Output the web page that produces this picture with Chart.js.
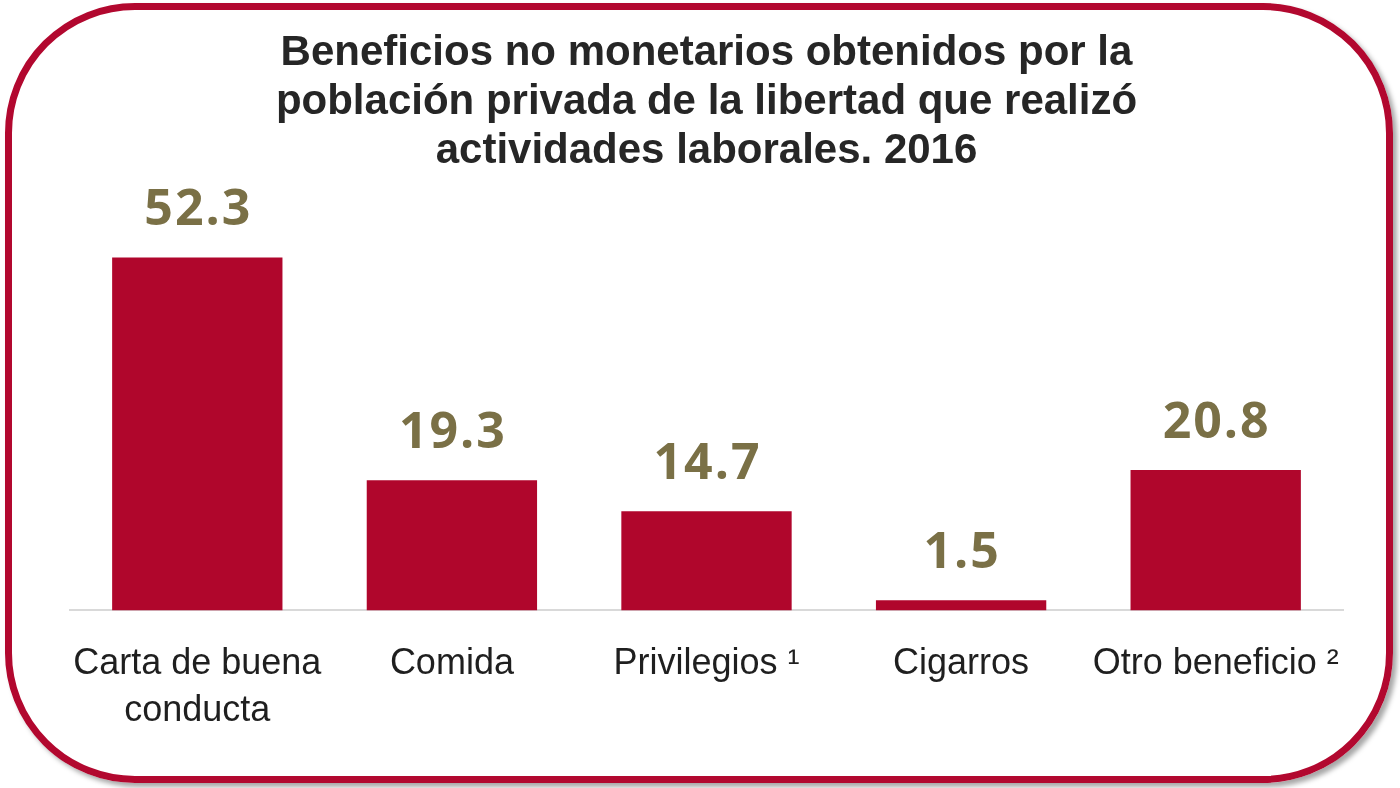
<!DOCTYPE html>
<html>
<head>
<meta charset="utf-8">
<script src="https://cdn.jsdelivr.net/npm/chart.js@4"></script>
<style>
  html, body { margin: 0; padding: 0; background: #ffffff; }
  #wrap { position: relative; width: 1400px; height: 788px; overflow: hidden; background: #ffffff; }
  #frame {
    position: absolute; left: 5px; top: 3px; width: 1388px; height: 780px;
    box-sizing: border-box; border: 7px solid #B2082F; border-radius: 130px;
    box-shadow: 4px 4px 5px rgba(0,0,0,0.35);
  }
  #c { position: absolute; left: 0; top: 0; }
</style>
</head>
<body>
<div id="wrap">
  <div id="frame"></div>
  <canvas id="c" width="1400" height="788"></canvas>
</div>
<script>
const titleLines = [
  'Beneficios no monetarios obtenidos por la',
  'población privada de la libertad que realizó',
  'actividades laborales. 2016'
];
const categories = [
  ['Carta de buena', 'conducta'],
  'Comida',
  'Privilegios ¹',
  'Cigarros',
  'Otro beneficio ²'
];
const values = [52.3, 19.3, 14.7, 1.5, 20.8];
const valueLabels = ['52.3', '19.3', '14.7', '1.5', '20.8'];

const valueLabelPlugin = {
  id: 'valueLabels',
  afterDatasetsDraw(chart) {
    const ctx = chart.ctx;
    const meta = chart.getDatasetMeta(0);
    ctx.save();
    ctx.font = 'bold 50px "Open Sans", sans-serif';
    ctx.fillStyle = '#7A7046';
    ctx.textAlign = 'center';
    ctx.textBaseline = 'alphabetic';
    if ('letterSpacing' in ctx) ctx.letterSpacing = '2px';
    meta.data.forEach((bar, i) => {
      ctx.fillText(valueLabels[i], bar.x + 1, bar.y - 32);
    });
    ctx.restore();
  }
};

new Chart(document.getElementById('c'), {
  type: 'bar',
  data: {
    labels: categories,
    datasets: [{
      data: values,
      backgroundColor: '#B0062C',
      borderWidth: 0,
      categoryPercentage: 1.0,
      barPercentage: 0.669
    }]
  },
  options: {
    responsive: false,
    devicePixelRatio: 1,
    animation: false,
    layout: { padding: { left: 70, right: 57, top: 16, bottom: 24 } },
    plugins: {
      legend: { display: false },
      tooltip: { enabled: false },
      title: {
        display: true,
        text: titleLines,
        color: '#262626',
        font: { family: '"Liberation Sans", Arial, sans-serif', size: 42, weight: 'bold', lineHeight: 1.17 },
        padding: { top: 13, bottom: 29 }
      }
    },
    scales: {
      x: {
        grid: { display: false, drawTicks: false },
        border: { display: true, color: '#D9D9D9', width: 2 },
        ticks: {
          color: '#1F1F1F',
          font: { family: '"Liberation Sans", Arial, sans-serif', size: 36, lineHeight: 1.3 },
          padding: 30,
          maxRotation: 0,
          autoSkip: false
        }
      },
      y: {
        display: false,
        min: 0,
        max: 60
      }
    }
  },
  plugins: [valueLabelPlugin]
});
</script>
</body>
</html>
